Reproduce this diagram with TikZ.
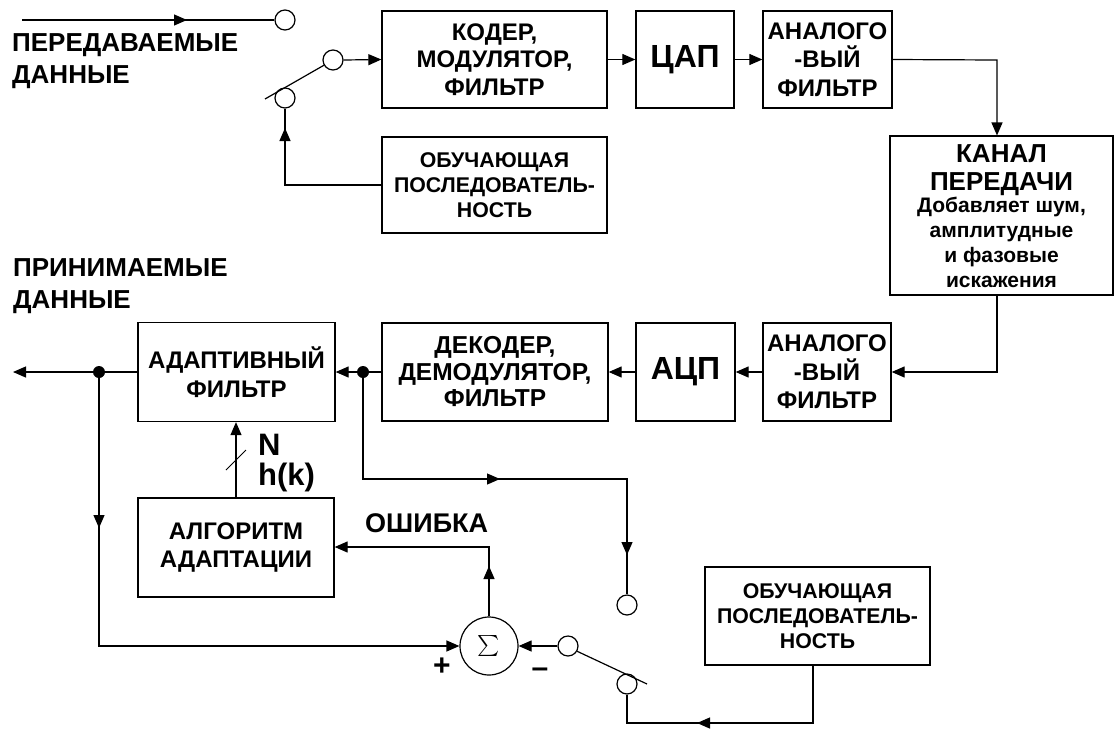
\documentclass[tikz,border=0pt]{standalone}
\usepackage{fontspec}
\setmainfont{Liberation Sans}
\usepackage{graphicx}
\usetikzlibrary{arrows.meta}
\tikzset{
 ln/.style={line width=1.2pt},
 arr/.style={ln,-{Triangle[length=13pt,width=11pt]}},
 blk/.style={draw,line width=1.3pt,inner sep=0pt,align=center,font=\bfseries\fontsize{24}{27.5}\selectfont},
 big/.style={font=\bfseries\fontsize{32}{34}\selectfont},
 train/.style={font=\bfseries\fontsize{21.3}{25}\selectfont},
 contact/.style={circle,draw,fill=white,line width=1.2pt,inner sep=0pt,minimum size=20pt},
 dot/.style={circle,fill,inner sep=0pt,minimum size=12pt},
 lbl/.style={inner sep=0pt,font=\bfseries\fontsize{26}{32}\selectfont,align=left},
}
\begin{document}
\begin{tikzpicture}[x=1pt,y=-1pt]
\useasboundingbox (0,0) rectangle (1114,729);
% transmitter blocks
\node[blk,minimum width=225pt,minimum height=97pt] (kod) at (494.5,59.5) {КОДЕР,\\МОДУЛЯТОР,\\ФИЛЬТР};
\node[blk,big,minimum width=98pt,minimum height=97pt] (dac) at (685,59.5) {ЦАП};
\node[blk,font=\bfseries\fontsize{24}{28.5}\selectfont,minimum width=129pt,minimum height=97pt] (af1) at (827.5,59.5) {АНАЛОГО\\-ВЫЙ\\ФИЛЬТР};
\node[blk,train,minimum width=225pt,minimum height=96pt] (tr1) at (494.5,185) {ОБУЧАЮЩАЯ\\ПОСЛЕДОВАТЕЛЬ-\\НОСТЬ};
\node[blk,font=\bfseries\fontsize{21}{25}\selectfont,minimum width=223pt,minimum height=157pt] (chan) at (1001.5,215.5)
 {\begin{tabular}{@{}c@{}}\noalign{\vskip 8pt}{\fontsize{26}{28}\selectfont КАНАЛ}\\[3pt]{\fontsize{26}{28}\selectfont ПЕРЕДАЧИ}\\[-3pt]Добавляет шум,\\амплитудные\\и фазовые\\искажения\end{tabular}};
% receiver blocks
\node[blk,font=\bfseries\fontsize{24}{28.5}\selectfont,minimum width=128pt,minimum height=98pt] (af2) at (827,372) {АНАЛОГО\\-ВЫЙ\\ФИЛЬТР};
\node[blk,big,minimum width=99pt,minimum height=98pt] (adc) at (685.5,372) {АЦП};
\node[blk,font=\bfseries\fontsize{24.5}{26.5}\selectfont,minimum width=226pt,minimum height=98pt] (dec) at (495,372) {ДЕКОДЕР,\\ДЕМОДУЛЯТОР,\\ФИЛЬТР};
\node[blk,font=\bfseries\fontsize{24}{29}\selectfont,minimum width=197pt,minimum height=99pt] (adf) at (236.5,372) {АДАПТИВНЫЙ\\ФИЛЬТР};
\node[blk,font=\bfseries\fontsize{24}{28}\selectfont,minimum width=196pt,minimum height=99pt] (alg) at (236,547.5) {АЛГОРИТМ\\АДАПТАЦИИ};
\node[blk,train,minimum width=225pt,minimum height=98pt] (tr2) at (817.5,616) {ОБУЧАЮЩАЯ\\ПОСЛЕДОВАТЕЛЬ-\\НОСТЬ};
\node[circle,draw,line width=1.2pt,minimum size=58pt,inner sep=0pt] (sig) at (489,646) {\scalebox{2.1}{$\sum$}};
% labels
\node[lbl,anchor=north west] (tx) at (12,33) {ПЕРЕДАВАЕМЫЕ\\ДАННЫЕ};
\node[lbl,anchor=north west] (rx) at (13,258) {ПРИНИМАЕМЫЕ\\ДАННЫЕ};
\node[lbl,anchor=north west,font=\bfseries\fontsize{31}{30}\selectfont] (nh) at (258,434) {N\\h(k)};
\node[inner sep=0pt,anchor=base west,font=\bfseries\fontsize{27}{30}\selectfont] (err) at (365,532) {ОШИБКА};
\node[inner sep=0pt,font=\bfseries\fontsize{30}{30}\selectfont] (plus) at (442,667) {+};
\node[inner sep=0pt,font=\bfseries\fontsize{30}{30}\selectfont] (minus) at (540,673) {–};
% contacts and junctions
\node[contact] (c0) at (285,20) {};
\node[contact] (cS1) at (333,60) {};
\node[contact] (cT) at (285,98) {};
\node[contact] (cU) at (627,605) {};
\node[contact] (cS2) at (568,646) {};
\node[contact] (cL) at (627,684) {};
\node[dot] (d1) at (363,372) {};
\node[dot] (d2) at (99,372) {};
% auxiliary points
\coordinate (inS) at (22,20);
\coordinate (m1) at (187,20);
\coordinate (bl1) at (265,99);
\coordinate (k1) at (285,185);
\coordinate (m2) at (285,128);
\coordinate (r1) at (997,60);
\coordinate (r2) at (997,372);
\coordinate (q1) at (363,479);
\coordinate (q2) at (627,479);
\coordinate (m3) at (500,479);
\coordinate (m4) at (627,555);
\coordinate (out) at (13,372);
\coordinate (p1) at (99,646);
\coordinate (m5) at (99,528);
\coordinate (sl1) at (226,470);
\coordinate (sl2) at (246,450);
\coordinate (e1) at (489,547);
\coordinate (m6) at (489,566);
\coordinate (bl2) at (647,684);
\coordinate (b1) at (627,723);
\coordinate (b2) at (813,723);
\coordinate (m7) at (697,723);
% connectors
\draw[ln] (inS) -- (c0.west);
\draw[arr] (inS) -- (m1);
\draw[ln] (bl1) -- (cS1.210);
\draw[arr] (cS1.east) -- (kod.west);
\draw[ln] (tr1.west) -- (k1) -- (cT.south);
\draw[arr] (k1) -- (m2);
\draw[arr] (kod.east) -- (dac.west);
\draw[arr] (dac.east) -- (af1.west);
\draw[arr] (af1.east) -- (r1) -- (r1 |- chan.north);
\draw[arr] (r2 |- chan.south) -- (r2) -- (af2.east);
\draw[arr] (af2.west) -- (adc.east);
\draw[arr] (adc.west) -- (dec.east);
\draw[arr] (dec.west) -- (adf.east);
\draw[arr] (adf.west) -- (out);
\draw[ln] (d1) -- (q1) -- (q2) -- (cU.north);
\draw[arr] (q1) -- (m3);
\draw[arr] (q2) -- (m4);
\draw[arr] (d2) -- (p1) -- (sig.west);
\draw[arr] (d2) -- (m5);
\draw[arr] (alg.north) -- (alg.north |- adf.south);
\draw[line width=1pt] (sl1) -- (sl2);
\draw[arr] (sig.north) -- (e1) -- (e1 -| alg.east);
\draw[arr] (sig.north) -- (m6);
\draw[arr] (cS2.west) -- (sig.east);
\draw[ln] (cS2.-30) -- (bl2);
\draw[ln] (b2 |- tr2.south) -- (b2) -- (b1) -- (cL.south);
\draw[arr] (b2) -- (m7);
\end{tikzpicture}
\end{document}
